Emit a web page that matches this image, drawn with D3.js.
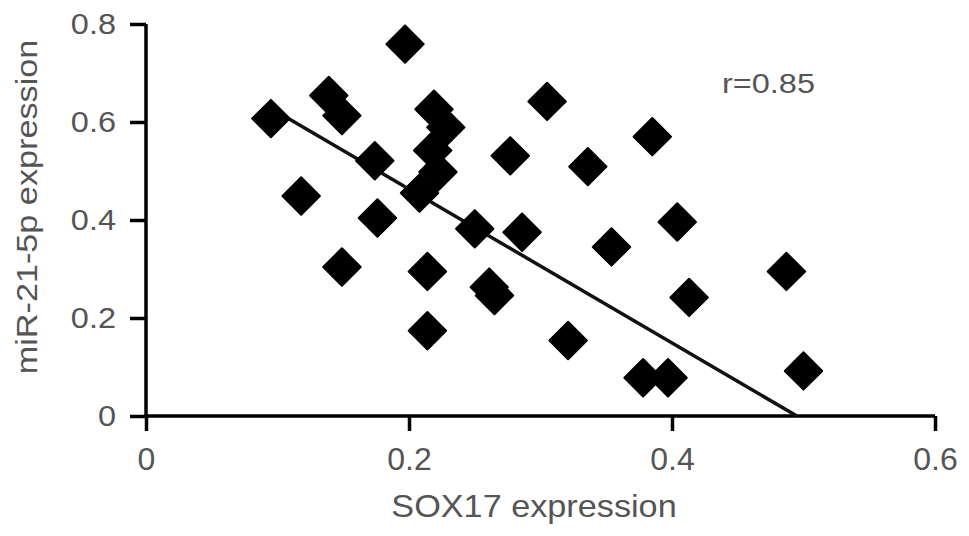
<!DOCTYPE html>
<html>
<head>
<meta charset="utf-8">
<script src="https://cdn.jsdelivr.net/npm/d3@7"></script>
<style>
  body { margin: 0; background: #fff; }
  text { font-family: "Liberation Sans", Arial, sans-serif; fill: #555; }
</style>
</head>
<body>
<script>
// SOX17 vs miR-21-5p expression
const sox17 = [0.095, 0.118, 0.139, 0.149, 0.149, 0.174, 0.176, 0.197, 0.208, 0.219,
  0.228, 0.218, 0.222, 0.214, 0.214, 0.250, 0.261, 0.265, 0.277, 0.286,
  0.305, 0.321, 0.336, 0.354, 0.378, 0.397, 0.385, 0.404, 0.413, 0.487, 0.500];
const mir21 = [0.607, 0.449, 0.654, 0.613, 0.304, 0.521, 0.404, 0.759, 0.455, 0.626,
  0.589, 0.542, 0.498, 0.295, 0.174, 0.382, 0.263, 0.246, 0.531, 0.375,
  0.642, 0.154, 0.509, 0.345, 0.078, 0.078, 0.570, 0.396, 0.242, 0.295, 0.092];
// fitted line: start / end on x, slope and intercept
const fitX = [0.107, 0.495];
const fitSlope = -1.57;
const fitIntercept = 0.777;
const xTicks = [0, 0.2, 0.4, 0.6];
const yTicks = [0, 0.2, 0.4, 0.6, 0.8];

const width = 969, height = 536;
const svg = d3.select("body").append("svg")
  .attr("width", width).attr("height", height);

const x = d3.scaleLinear().domain([0, 0.6]).range([146, 935]);
const y = d3.scaleLinear().domain([0, 0.8]).range([416, 24]);
const fmt = d => d === 0 ? "0" : d3.format(".1f")(d);

//axes
const xAxis = svg.append("g").attr("transform", "translate(0,416)")
  .call(d3.axisBottom(x).tickValues(xTicks).tickSize(15).tickPadding(8).tickFormat(fmt));
const yAxis = svg.append("g").attr("transform", "translate(146,0)")
  .call(d3.axisLeft(y).tickValues(yTicks).tickSize(16).tickPadding(14).tickFormat(fmt));

[xAxis, yAxis].forEach(g => {
  g.select(".domain").attr("stroke", "#000").attr("stroke-width", 3.5);
  g.selectAll(".tick line").attr("stroke", "#000").attr("stroke-width", 3.5);
  g.selectAll(".tick text").attr("fill", "#555")
    .attr("font-family", "Liberation Sans, Arial, sans-serif");
});
xAxis.select(".domain").attr("d", "M146,0H935");
yAxis.select(".domain").attr("d", "M0,416V24");
xAxis.selectAll(".tick text").attr("font-size", 32).attr("dy", null).attr("y", 54);
// y labels look a little wider than they are tall
yAxis.selectAll(".tick text").attr("font-size", 29)
  .attr("transform", "scale(1.12,1)").attr("x", -30 / 1.12);

//regression line
svg.append("line")
  .attr("x1", x(fitX[0])).attr("y1", y(fitIntercept + fitSlope * fitX[0]))
  .attr("x2", x(fitX[1])).attr("y2", y(fitIntercept + fitSlope * fitX[1]))
  .attr("stroke", "#111").attr("stroke-width", 3.5);

//diamonds
const diamond = d3.symbol().type(d3.symbolSquare).size(700);
svg.append("g").selectAll("path")
  .data(sox17.map((v, i) => [v, mir21[i]]))
  .enter().append("path")
  .attr("d", diamond)
  .attr("transform", d => "translate(" + x(d[0]) + "," + y(d[1]) + ") rotate(45)")
  .attr("fill", "#000").attr("stroke", "#000").attr("stroke-width", 2)
  .attr("stroke-linejoin", "round");

//labels
svg.append("text")
  .attr("transform", "translate(534,517) scale(1.07,1)")
  .attr("text-anchor", "middle").attr("font-size", 32)
  .text("SOX17 expression");
svg.append("text")
  .attr("transform", "translate(37,207) rotate(-90) scale(1.18,1)")
  .attr("text-anchor", "middle").attr("font-size", 29)
  .text("miR-21-5p expression");
svg.append("text")
  .attr("transform", "translate(722,93) scale(1.16,1)")
  .attr("font-size", 28)
  .text("r=0.85");
</script>
</body>
</html>
